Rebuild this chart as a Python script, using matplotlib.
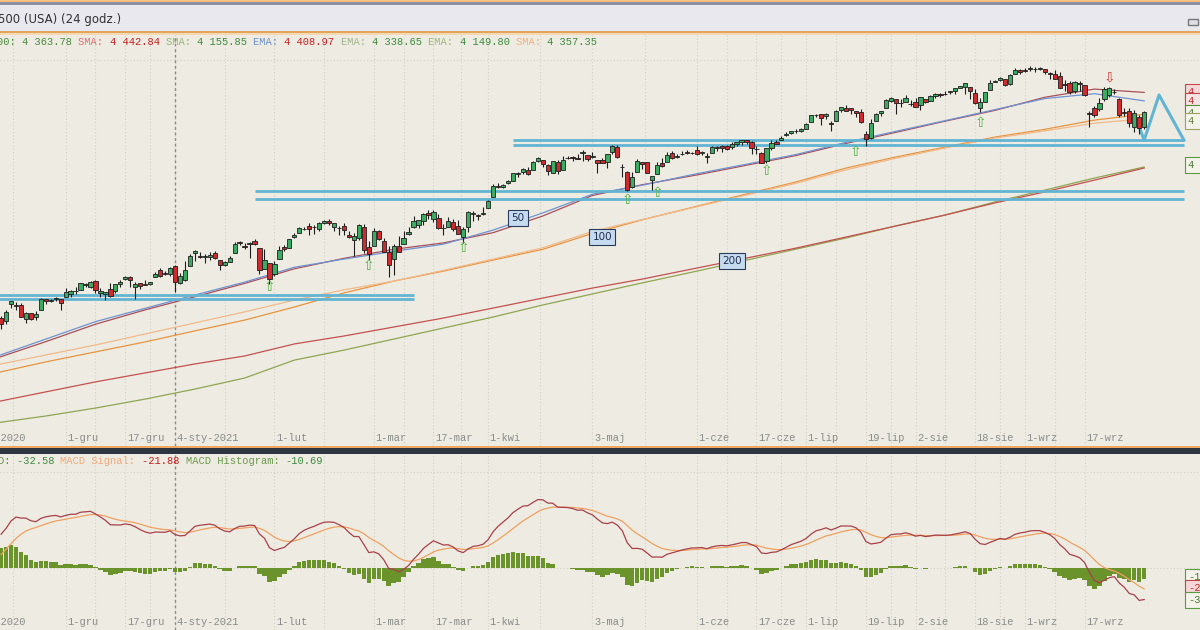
import numpy as np
import pandas as pd
import matplotlib
matplotlib.use("Agg")
import matplotlib.pyplot as plt
from matplotlib.patches import Rectangle
from matplotlib.transforms import blended_transform_factory

# ---------------- data ----------------
# closes before the visible window, only used to warm up the MACD
warmup_close = [
    3527, 3580, 3455, 3427, 3427, 3332, 3399, 3339, 3341, 3383, 3401, 3385, 3357, 3319, 3281,
    3315, 3237, 3247, 3298, 3351, 3335, 3363,
    3381, 3348, 3408, 3361, 3419, 3447, 3477, 3535, 3512, 3489, 3483, 3484, 3427, 3443, 3436,
    3453, 3465, 3401, 3391, 3271, 3310, 3270,
    3310, 3370, 3444, 3510, 3509, 3550, 3545, 3572,
]

# daily candles 12-lis-2020 .. 5-paz-2021
opens = [
    3562, 3552, 3618, 3611, 3612, 3560, 3580, 3567, 3594, 3635, 3630, 3638, 3635,
    3645, 3654, 3669, 3670, 3694, 3683, 3706, 3659, 3656, 3675, 3666, 3696, 3713, 3722, 3684,
    3698, 3693, 3694, 3723, 3751, 3736, 3733,
    3764, 3698, 3712, 3764, 3815, 3803, 3801, 3802, 3814, 3788, 3768, 3782, 3816, 3857, 3844,
    3851, 3862, 3836, 3755, 3778,
    3732, 3791, 3840, 3836, 3878, 3893, 3910, 3920, 3917, 3911, 3934, 3939, 3918, 3915, 3921,
    3886, 3865, 3873, 3916, 3839,
    3842, 3903, 3863, 3818, 3793, 3844, 3851, 3891, 3916, 3924, 3942, 3973, 3950, 3953, 3913,
    3917, 3938, 3920, 3879, 3917, 3969, 3963, 3967,
    3992, 4034, 4075, 4074, 4089, 4097, 4124, 4130, 4141, 4140, 4174, 4180, 4160, 4129, 4171,
    4138, 4185, 4189, 4185, 4206, 4198,
    4191, 4179, 4178, 4170, 4210, 4228, 4150, 4131, 4074, 4130, 4170, 4169, 4099, 4122, 4168,
    4170, 4205, 4191, 4201, 4210, 4204,
    4216, 4206, 4191, 4206, 4229, 4234, 4232, 4228, 4242, 4249, 4255, 4249, 4220, 4205, 4173,
    4224, 4249, 4257, 4275, 4285, 4293, 4290,
    4301, 4327, 4352, 4356, 4351, 4321, 4329, 4373, 4382, 4381, 4369, 4367, 4280, 4266, 4331,
    4361, 4381, 4409, 4416, 4402, 4404, 4396,
    4406, 4392, 4415, 4408, 4429, 4437, 4436, 4442, 4446, 4461, 4462, 4462, 4440, 4383, 4406,
    4450, 4484, 4490, 4494, 4474, 4514, 4529,
    4529, 4534, 4532, 4535, 4535, 4518, 4513, 4506, 4474, 4479, 4447, 4477, 4470, 4360, 4381,
    4377, 4416, 4432, 4444, 4416, 4366, 4370,
    4307, 4346, 4307,
]
highs = [
    3569, 3593, 3629, 3624, 3619, 3585, 3582, 3589, 3642, 3637, 3636, 3644, 3635,
    3679, 3670, 3683, 3699, 3698, 3708, 3712, 3678, 3665, 3698, 3695, 3712, 3725, 3726, 3703,
    3698, 3712, 3704, 3740, 3756, 3744, 3760,
    3770, 3738, 3783, 3811, 3827, 3818, 3810, 3820, 3823, 3789, 3784, 3804, 3859, 3861, 3853,
    3860, 3870, 3837, 3830, 3778,
    3784, 3843, 3848, 3872, 3894, 3916, 3919, 3931, 3925, 3935, 3945, 3950, 3933, 3921, 3931,
    3902, 3895, 3929, 3928, 3862,
    3915, 3906, 3874, 3844, 3851, 3881, 3903, 3918, 3960, 3944, 3970, 3982, 3982, 3969, 3930,
    3956, 3949, 3943, 3919, 3979, 3981, 3969, 3994,
    4021, 4083, 4087, 4084, 4099, 4129, 4131, 4148, 4152, 4174, 4191, 4180, 4163, 4175, 4179,
    4194, 4194, 4193, 4201, 4219, 4199,
    4209, 4180, 4187, 4202, 4238, 4236, 4162, 4134, 4131, 4183, 4172, 4170, 4117, 4172, 4188,
    4209, 4213, 4202, 4213, 4218, 4210,
    4234, 4212, 4204, 4234, 4232, 4237, 4238, 4249, 4249, 4255, 4258, 4252, 4233, 4208, 4226,
    4256, 4256, 4272, 4286, 4292, 4300, 4302,
    4321, 4355, 4358, 4357, 4362, 4331, 4372, 4386, 4393, 4383, 4370, 4376, 4290, 4337, 4360,
    4371, 4415, 4423, 4416, 4415, 4430, 4412,
    4422, 4424, 4416, 4430, 4441, 4440, 4449, 4449, 4461, 4468, 4480, 4462, 4454, 4419, 4441,
    4489, 4492, 4501, 4496, 4513, 4538, 4532,
    4537, 4545, 4541, 4540, 4535, 4521, 4529, 4521, 4492, 4486, 4486, 4485, 4471, 4368, 4390,
    4420, 4462, 4463, 4455, 4420, 4380, 4383,
    4375, 4352, 4370,
]
lows = [
    3518, 3537, 3600, 3594, 3567, 3544, 3556, 3553, 3594, 3618, 3625, 3630, 3594,
    3645, 3645, 3657, 3670, 3684, 3678, 3660, 3646, 3633, 3645, 3659, 3684, 3710, 3685, 3636,
    3676, 3689, 3690, 3723, 3723, 3730, 3726,
    3663, 3695, 3705, 3764, 3785, 3796, 3776, 3789, 3792, 3750, 3764, 3780, 3816, 3845, 3830,
    3797, 3847, 3732, 3755, 3694,
    3725, 3791, 3822, 3836, 3874, 3893, 3906, 3885, 3891, 3900, 3930, 3924, 3901, 3885, 3885,
    3874, 3805, 3866, 3814, 3789,
    3842, 3868, 3818, 3723, 3730, 3819, 3851, 3887, 3915, 3915, 3924, 3950, 3935, 3910, 3886,
    3917, 3902, 3889, 3854, 3899, 3940, 3943, 3964,
    3992, 4034, 4069, 4068, 4083, 4096, 4114, 4124, 4120, 4140, 4171, 4151, 4118, 4126, 4124,
    4138, 4182, 4176, 4182, 4174, 4174,
    4188, 4128, 4166, 4148, 4202, 4188, 4111, 4056, 4069, 4130, 4143, 4127, 4062, 4122, 4152,
    4170, 4182, 4187, 4198, 4203, 4200,
    4197, 4198, 4167, 4206, 4215, 4211, 4219, 4220, 4233, 4235, 4242, 4203, 4203, 4165, 4166,
    4218, 4241, 4256, 4271, 4281, 4285, 4287,
    4301, 4327, 4348, 4313, 4340, 4290, 4329, 4365, 4368, 4356, 4346, 4324, 4234, 4260, 4331,
    4351, 4381, 4406, 4359, 4387, 4404, 4389,
    4385, 4374, 4400, 4407, 4422, 4425, 4431, 4436, 4436, 4459, 4437, 4417, 4397, 4367, 4403,
    4450, 4482, 4486, 4468, 4469, 4514, 4515,
    4521, 4524, 4521, 4530, 4513, 4493, 4493, 4458, 4446, 4435, 4439, 4448, 4427, 4306, 4348,
    4370, 4410, 4425, 4435, 4346, 4350, 4306,
    4288, 4280, 4300,
]
closes = [
    3537, 3585, 3627, 3610, 3567, 3582, 3557, 3578, 3635, 3630, 3632, 3638, 3622,
    3662, 3669, 3666, 3699, 3692, 3702, 3673, 3668, 3663, 3647, 3695, 3702, 3722, 3709, 3695,
    3687, 3691, 3703, 3735, 3727, 3732, 3756,
    3701, 3726, 3748, 3804, 3825, 3799, 3801, 3809, 3796, 3768, 3780, 3798, 3852, 3853, 3841,
    3855, 3849, 3750, 3787, 3714,
    3774, 3826, 3830, 3872, 3887, 3915, 3911, 3910, 3917, 3934, 3940, 3933, 3932, 3913, 3907,
    3877, 3881, 3925, 3829, 3811,
    3901, 3870, 3820, 3768, 3842, 3821, 3875, 3899, 3939, 3943, 3969, 3963, 3974, 3915, 3913,
    3941, 3911, 3889, 3910, 3975, 3971, 3959, 3973,
    4020, 4078, 4074, 4080, 4097, 4129, 4128, 4142, 4125, 4170, 4185, 4163, 4135, 4173, 4135,
    4180, 4188, 4186, 4183, 4211, 4181,
    4192, 4165, 4168, 4202, 4233, 4189, 4153, 4063, 4113, 4174, 4164, 4128, 4116, 4160, 4156,
    4198, 4188, 4195, 4200, 4204, 4206,
    4202, 4208, 4192, 4230, 4227, 4227, 4220, 4239, 4247, 4255, 4247, 4224, 4222, 4166, 4224,
    4246, 4242, 4266, 4281, 4291, 4291, 4298,
    4320, 4352, 4355, 4344, 4358, 4320, 4370, 4385, 4369, 4375, 4360, 4327, 4259, 4323, 4359,
    4368, 4412, 4422, 4401, 4400, 4419, 4395,
    4387, 4423, 4403, 4429, 4437, 4432, 4436, 4447, 4460, 4468, 4479, 4449, 4400, 4405, 4442,
    4480, 4486, 4497, 4470, 4509, 4529, 4523,
    4524, 4537, 4535, 4536, 4520, 4514, 4493, 4459, 4469, 4443, 4481, 4474, 4433, 4356, 4354,
    4401, 4455, 4459, 4445, 4354, 4362, 4323,
    4362, 4303, 4364,
]

# moving averages, sampled along the lines
ma_dates = ["2020-11-11", "2020-11-25", "2020-12-09", "2020-12-23", "2021-01-08", "2021-01-22",
            "2021-02-05", "2021-02-19", "2021-03-05", "2021-03-19", "2021-04-05", "2021-04-19",
            "2021-05-03", "2021-05-17", "2021-06-01", "2021-06-15", "2021-06-29", "2021-07-13",
            "2021-07-27", "2021-08-10", "2021-08-24", "2021-09-07", "2021-09-21", "2021-10-05"]
ema50 = [3412, 3480, 3548, 3600, 3652, 3702, 3760, 3792, 3822, 3850, 3905, 3972,
         4045, 4080, 4125, 4162, 4200, 4247, 4290, 4332, 4375, 4418, 4437, 4409]
sma50 = [3405, 3470, 3538, 3594, 3645, 3697, 3754, 3795, 3830, 3855, 3895, 3960,
         4040, 4082, 4120, 4158, 4196, 4243, 4286, 4330, 4372, 4423, 4455, 4442]
ema100 = [3379, 3418, 3457, 3500, 3543, 3586, 3632, 3672, 3706, 3748, 3792, 3836,
          3900, 3946, 3996, 4042, 4088, 4140, 4185, 4225, 4264, 4292, 4322, 4339]
sma100 = [3348, 3391, 3430, 3469, 3512, 3554, 3605, 3660, 3706, 3745, 3788, 3830,
          3892, 3945, 3998, 4046, 4093, 4147, 4190, 4229, 4268, 4298, 4334, 4357]
ema200 = [3235, 3274, 3313, 3348, 3383, 3414, 3461, 3492, 3527, 3562, 3601, 3640,
          3679, 3714, 3757, 3796, 3835, 3878, 3921, 3964, 4011, 4054, 4100, 4147]
sma200 = [3153, 3180, 3211, 3246, 3285, 3328, 3398, 3437, 3480, 3523, 3566, 3613,
          3656, 3699, 3745, 3788, 3831, 3874, 3921, 3964, 4015, 4061, 4108, 4151]

# drawn support lines (two lines each) and the triangle
zone_levels = [(3651, 3638), (4058, 4026), (4256, 4237)]
zone_from = ["2020-11-02", "2021-01-26", "2021-04-09"]
zone_to = ["2021-03-11", "2021-10-15", "2021-10-15"]
tri_dates = ["2021-10-04", "2021-10-05", "2021-10-08", "2021-10-15"]
tri_price = [4307, 4256, 4432, 4256]

up_arrow_dates = ["2021-01-29", "2021-02-26", "2021-03-25", "2021-05-12", "2021-05-20",
                  "2021-06-21", "2021-07-15", "2021-08-19"]
up_arrow_price = [3683, 3765, 3835, 4022, 4050, 4136, 4210, 4323]
down_arrow_dates = ["2021-09-24"]
down_arrow_price = [4502]

ma_tags = ["50", "100", "200"]
ma_tag_dates = ["2021-04-12", "2021-05-05", "2021-06-10"]
ma_tag_price = [3952, 3878, 3785]

tick_labels = ["2-lis-2020", "1-gru", "17-gru", "4-sty-2021", "1-lut", "1-mar", "17-mar", "1-kwi",
               "3-maj", "1-cze", "17-cze", "1-lip", "19-lip", "2-sie", "18-sie", "1-wrz", "17-wrz"]
tick_dates = ["2020-11-02", "2020-12-01", "2020-12-17", "2021-01-04", "2021-02-01", "2021-03-01",
              "2021-03-17", "2021-04-01", "2021-05-03", "2021-06-01", "2021-06-17", "2021-07-01",
              "2021-07-19", "2021-08-02", "2021-08-18", "2021-09-01", "2021-09-17"]

# ---------------- calendar (24h CFD: trades on US holidays) ----------------
cal = pd.bdate_range("2020-09-01", "2021-10-20", freq="C",
                     holidays=["2020-12-25", "2021-01-01", "2021-04-02"])
pos = {d: i for i, d in enumerate(cal)}
origin = pos[pd.Timestamp("2021-01-04")]


def ix(d):
    return pos[pd.Timestamp(d)] - origin


W, H = 1200, 630
BG = "#EEECE2"
GREEN = "#3DAA62"
RED = "#CF2A2E"
MONO = "Liberation Mono"


def fy(py):
    return 1 - py / H


fig = plt.figure(figsize=(12, 6.3), dpi=100)
fig.patch.set_facecolor(BG)

# title bar
for y0, y1, col in [(0, 2, "#F4C27E"), (2, 5, "#8C90A0"), (5, 31, "#E9E8EF"),
                    (31, 33, "#E2A55E"), (33, 35, "#F6D9B0"), (446, 448, "#F0A860"),
                    (448, 454, "#2E3440")]:
    fig.patches.append(Rectangle((0, fy(y1)), 1, (y1 - y0) / H, transform=fig.transFigure,
                                 facecolor=col, edgecolor="none", zorder=0))
fig.patches.append(Rectangle((1188 / W, fy(25)), 10 / W, 6 / H, transform=fig.transFigure,
                             facecolor="#E0E0E6", edgecolor="#777777", lw=1, zorder=1))
fig.text(-2 / W, fy(19), "500 (USA) (24 godz.)", fontsize=8.5, color="#333333",
         va="center", ha="left", family="DejaVu Sans")

xlim = (-175 / 4.97, (W - 175) / 4.97)

# ---------------- main pane ----------------
ax = fig.add_axes([0, fy(446), 1, (446 - 35) / H])
ax.set_facecolor(BG)
ax.set_xlim(*xlim)
ax.set_ylim(4545 - (446 - 66) * 3.9, 4545 + (66 - 35) * 3.9)
ax.axis("off")

tick_x = [ix(d) for d in tick_dates]
grid_x = tick_x + [(a + b) / 2 for a, b in zip(tick_x[:-1], tick_x[1:])]
for gx in grid_x:
    ax.axvline(gx, color="#D3D1C6", lw=0.8, ls=(0, (1, 2)), zorder=0)
ax.axhline(4545 + (66 - 60) * 3.9, color="#D3D1C6", lw=0.8, ls=(0, (1, 2)), zorder=0)
ax.axvline(0, color="#8A8A8A", lw=1, ls=(0, (2, 2)), zorder=1)

mx = [ix(d) for d in ma_dates]
ax.plot(mx, sma200, color="#8FA552", lw=0.9, zorder=2)
ax.plot(mx, ema200, color="#C45050", lw=0.9, zorder=2)
ax.plot(mx, sma100, color="#E89440", lw=0.9, zorder=2)
ax.plot(mx, ema100, color="#F2B98A", lw=0.9, zorder=2)
ax.plot(mx, sma50, color="#A8505A", lw=0.9, zorder=2)
ax.plot(mx, ema50, color="#6F92D2", lw=0.9, zorder=2)

for (p1, p2), a, b in zip(zone_levels, zone_from, zone_to):
    ax.hlines([p1, p2], ix(a), ix(b), color="#62B4D2", lw=2.0, zorder=2.5)
ax.plot([ix(d) for d in tri_dates], tri_price, color="#62B4D2", lw=2.2, zorder=2.5)

o, h, l, c = map(np.array, (opens, highs, lows, closes))
x = np.arange(len(c)) + ix("2020-11-12")
ax.vlines(x, l, h, color="#1E1E1E", lw=0.8, zorder=3)
ax.bar(x, np.maximum(np.abs(c - o), 1.2), bottom=np.minimum(o, c), width=0.86,
       color=np.where(c >= o, GREEN, RED), edgecolor="#1E1E1E", linewidth=0.6, zorder=4)

for d, p in zip(up_arrow_dates, up_arrow_price):
    ax.text(ix(d), p, "\u21e7", color="#4FB043", fontsize=10, ha="center", va="center", zorder=5)
for d, p in zip(down_arrow_dates, down_arrow_price):
    ax.text(ix(d), p, "\u21e9", color="#D04040", fontsize=10, ha="center", va="center", zorder=5)

for t, d, p in zip(ma_tags, ma_tag_dates, ma_tag_price):
    ax.text(ix(d), p, t, fontsize=7.5, color="#1F2F4F", ha="center", va="center", zorder=6,
            bbox=dict(boxstyle="square,pad=0.3", fc="#C6DAF0", ec="#2A3A5A", lw=0.8))

tr = blended_transform_factory(ax.transData, ax.transAxes)
for lab, tx in zip(tick_labels, tick_x):
    ax.text(tx + 0.3, (446 - 438) / (446 - 35), lab, transform=tr, fontsize=7.5, family=MONO,
            color="#8A8A8A", ha="left", va="center")

# header with current values
head = [("00: ", "#4A8A3A"), ("4 363.78 ", "#4A8A3A"), ("SMA: ", "#D87070"), ("4 442.84 ", "#C82020"),
        ("SMA: ", "#98B478"), ("4 155.85 ", "#3E8A3E"), ("EMA: ", "#6C8FD0"), ("4 408.97 ", "#C82020"),
        ("EMA: ", "#A2B48E"), ("4 338.65 ", "#3E8A3E"), ("EMA: ", "#A2B478"), ("4 149.80 ", "#3E8A3E"),
        ("SMA: ", "#F0B080"), ("4 357.35", "#3E8A3E")]
n = 0
for s, col in head:
    fig.text((-3 + n * 6.25) / W, fy(42), s, fontsize=7.5, family=MONO, color=col,
             va="center", ha="left")
    n += len(s)

# value tags on the right edge
for yc, s, ec, fc, tc in [(92, "4 442.84", "#C04848", "#F6D6D6", "#C03030"),
                          (101, "4 408.97", "#C04848", "#F4E4E4", "#C03030"),
                          (113, "4 357.35", "#5A8A40", "#F3F3EA", "#4A7A30"),
                          (121, "4 338.65", "#A0A060", "#F3F3EA", "#6A7A40"),
                          (165, "4 155.85", "#5A9A40", "#F3F3EA", "#4A7A30")]:
    fig.text(1188 / W, fy(yc), s, fontsize=7.5, family=MONO, color=tc, va="center", ha="left",
             bbox=dict(boxstyle="square,pad=0.25", fc=fc, ec=ec, lw=0.8))

# ---------------- MACD pane ----------------
allc = pd.Series(warmup_close + closes, dtype=float)
macd_all = allc.ewm(span=12, adjust=False).mean() - allc.ewm(span=26, adjust=False).mean()
sig_all = macd_all.ewm(span=9, adjust=False).mean()
k = len(warmup_close)
macd = macd_all.to_numpy()[k:]
sig = sig_all.to_numpy()[k:]
hist = macd - sig

ax2 = fig.add_axes([0, 0, 1, (H - 454) / H])
ax2.set_facecolor(BG)
ax2.set_xlim(*xlim)
ax2.set_ylim(-62, 114)
ax2.axis("off")
for gx in grid_x:
    ax2.axvline(gx, color="#D3D1C6", lw=0.8, ls=(0, (1, 2)), zorder=0)
ax2.axhline(0, color="#D3D1C6", lw=0.8, ls=(0, (1, 2)), zorder=0)
ax2.axhline(96, color="#D3D1C6", lw=0.8, ls=(0, (1, 2)), zorder=0)
ax2.axvline(0, color="#8A8A8A", lw=1, ls=(0, (2, 2)), zorder=1)
ax2.bar(x, hist, width=0.9, color="#6B932C", zorder=2)
ax2.plot(x, sig, color="#F0A060", lw=0.9, zorder=3)
ax2.plot(x, macd, color="#A8404A", lw=0.9, zorder=3)

tr2 = blended_transform_factory(ax2.transData, ax2.transAxes)
for lab, tx in zip(tick_labels, tick_x):
    ax2.text(tx + 0.3, (H - 622) / (H - 454), lab, transform=tr2, fontsize=7.5, family=MONO,
             color="#8A8A8A", ha="left", va="center")

mhead = [("D: ", "#6A8A4A"), ("-32.58 ", "#3E8A3E"), ("MACD Signal: ", "#F0A878"),
         ("-21.88 ", "#C82020"), ("MACD Histogram: ", "#6A9A4A"), ("-10.69", "#3E8A3E")]
n = 0
for s, col in mhead:
    fig.text((-2 + n * 6.25) / W, fy(461), s, fontsize=7.5, family=MONO, color=col,
             va="center", ha="left")
    n += len(s)

for yc, s, ec, fc, tc in [(577, "-10.69", "#5A9A40", "#F3F3EA", "#4A7A30"),
                          (588, "-21.88", "#C04848", "#F6D6D6", "#C03030"),
                          (600, "-32.58", "#5A9A40", "#F3F3EA", "#4A7A30")]:
    fig.text(1188 / W, fy(yc), s, fontsize=7.5, family=MONO, color=tc, va="center", ha="left",
             bbox=dict(boxstyle="square,pad=0.25", fc=fc, ec=ec, lw=0.8))

fig.savefig("out.png", dpi=100, facecolor=BG)
